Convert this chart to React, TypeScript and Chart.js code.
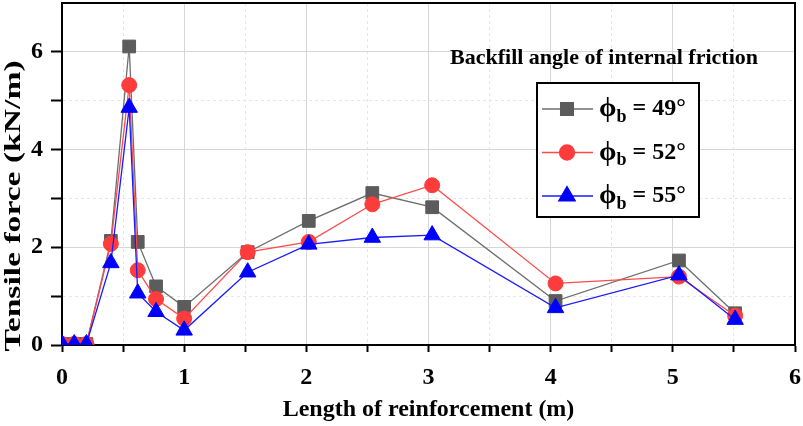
import React, { useEffect, useRef } from 'react';
import { Chart, registerables } from 'chart.js';
import { drawPoint } from 'chart.js/helpers';

Chart.register(...registerables);

// length of reinforcement (m)
const lengths = [0, 0.1, 0.2, 0.4, 0.55, 0.62, 0.77, 1.0, 1.52, 2.02, 2.54, 3.03, 4.04, 5.05, 5.51];
// tensile force (kN/m) for each backfill friction angle
const force49 = [0.02, 0.02, 0.02, 2.13, 6.11, 2.11, 1.2, 0.78, 1.9, 2.54, 3.11, 2.82, 0.9, 1.73, 0.65];
const force52 = [0.02, 0.02, 0.02, 2.07, 5.32, 1.53, 0.94, 0.54, 1.9, 2.11, 2.88, 3.27, 1.26, 1.4, 0.6];
const force55 = [0.02, 0.02, 0.02, 1.68, 4.86, 1.06, 0.68, 0.3, 1.49, 2.06, 2.2, 2.25, 0.76, 1.43, 0.52];

const angles = [49, 52, 55];
const legendTitle = 'Backfill angle of internal friction';
const yTitle = 'Tensile force (kN/m)';

const FONT = '"Liberation Serif", "Times New Roman", serif';

const toPoints = (ys: number[]) => lengths.map((x, i) => ({ x, y: ys[i] }));

const frameAndLegend = {
  id: 'frameAndLegend',
  afterDraw(chart: any) {
    const { ctx, chartArea } = chart;
    ctx.save();
    // top and right frame
    ctx.strokeStyle = '#000';
    ctx.lineWidth = 2;
    ctx.beginPath();
    ctx.moveTo(chartArea.left, chartArea.top);
    ctx.lineTo(chartArea.right, chartArea.top);
    ctx.lineTo(chartArea.right, chartArea.bottom);
    ctx.stroke();

    // y axis title (stretched along its length like the original)
    ctx.save();
    ctx.translate(14, 206);
    ctx.rotate(-Math.PI / 2);
    ctx.scale(1.4, 1);
    ctx.fillStyle = '#000';
    ctx.font = `bold 24px ${FONT}`;
    ctx.textAlign = 'center';
    ctx.textBaseline = 'middle';
    ctx.fillText(yTitle, 0, 0);
    ctx.restore();

    // legend title
    ctx.fillStyle = '#000';
    ctx.font = `bold 22px ${FONT}`;
    ctx.textAlign = 'center';
    ctx.textBaseline = 'middle';
    ctx.fillText(legendTitle, 604, 58);

    // legend box
    ctx.fillStyle = '#fff';
    ctx.fillRect(537, 83, 162, 134);
    ctx.strokeStyle = '#000';
    ctx.lineWidth = 2;
    ctx.strokeRect(537, 83, 162, 134);

    [0, 1, 2].forEach((i) => {
      const ds = chart.data.datasets[i];
      const y = 109 + i * 43.5;
      ctx.strokeStyle = ds.borderColor;
      ctx.lineWidth = ds.borderWidth;
      ctx.beginPath();
      ctx.moveTo(542, y);
      ctx.lineTo(593, y);
      ctx.stroke();
      ctx.fillStyle = ds.pointBackgroundColor;
      ctx.strokeStyle = ds.pointBackgroundColor;
      drawPoint(ctx, { pointStyle: ds.pointStyle, radius: ds.pointRadius, rotation: 0, borderWidth: 1 }, 567, y);

      ctx.fillStyle = '#000';
      ctx.textAlign = 'left';
      ctx.textBaseline = 'middle';
      let x = 599;
      ctx.font = `bold 28px ${FONT}`;
      ctx.fillText('\u03d5', x, y);
      x += ctx.measureText('\u03d5').width;
      ctx.font = `bold 18px ${FONT}`;
      ctx.fillText('b', x, y + 8);
      x += ctx.measureText('b').width;
      ctx.font = `bold 24px ${FONT}`;
      ctx.fillText(` = ${angles[i]}\u00b0`, x, y);
    });
    ctx.restore();
  },
};

const App: React.FC = () => {
  const chartRef = useRef<HTMLCanvasElement>(null);
  const chartInstance = useRef<Chart | null>(null);

  useEffect(() => {
    document.body.style.margin = '0';
    if (chartInstance.current) {
      chartInstance.current.destroy();
    }
    if (chartRef.current) {
      const ctx = chartRef.current.getContext('2d');
      if (ctx) {
        chartInstance.current = new Chart(ctx, {
          type: 'line',
          data: {
            datasets: [
              {
                label: `\u03d5b = ${angles[0]}\u00b0`,
                data: toPoints(force49),
                borderColor: '#6e6e6e',
                borderWidth: 1.3,
                pointStyle: 'rect',
                pointRadius: 9,
                pointBackgroundColor: '#5c5c5c',
                pointBorderColor: '#5c5c5c',
                pointBorderWidth: 1,
                order: 2,
              },
              {
                label: `\u03d5b = ${angles[1]}\u00b0`,
                data: toPoints(force52),
                borderColor: '#ff4a4a',
                borderWidth: 1.3,
                pointStyle: 'circle',
                pointRadius: 7.5,
                pointBackgroundColor: '#ff3c3c',
                pointBorderColor: '#ff3c3c',
                pointBorderWidth: 1,
                order: 1,
              },
              {
                label: `\u03d5b = ${angles[2]}\u00b0`,
                data: toPoints(force55),
                borderColor: '#1a1aff',
                borderWidth: 1.3,
                pointStyle: 'triangle',
                pointRadius: 9.5,
                pointBackgroundColor: '#0000ff',
                pointBorderColor: '#0000ff',
                pointBorderWidth: 1,
                order: 0,
              },
            ],
          },
          options: {
            responsive: false,
            animation: false,
            layout: { autoPadding: false, padding: { left: 0, top: 3, right: 8, bottom: 0 } },
            plugins: {
              legend: { display: false },
              tooltip: { enabled: false },
            },
            elements: { line: { tension: 0 } },
            scales: {
              x: {
                type: 'linear',
                min: 0,
                max: 6,
                ticks: {
                  stepSize: 0.5,
                  autoSkip: false,
                  maxRotation: 0,
                  callback: (v: any) => (Number.isInteger(v) ? String(v) : ''),
                  font: { family: FONT, size: 24, weight: 'bold' },
                  color: '#000',
                  padding: 11,
                },
                grid: {
                  color: (c: any) => (c.tick && !Number.isInteger(c.tick.value) ? '#e6e6e6' : '#d6d6d6'),
                  lineWidth: 1,
                  tickLength: 7,
                  tickColor: '#000',
                  tickWidth: 2,
                },
                border: {
                  color: '#000',
                  width: 2,
                  dash: (c: any) => (c.tick && !Number.isInteger(c.tick.value) ? [3, 3] : []),
                },
                title: {
                  display: true,
                  text: 'Length of reinforcement (m)',
                  font: { family: FONT, size: 24, weight: 'bold' },
                  color: '#000',
                  padding: { top: 0, bottom: 2 },
                },
                afterFit: (scale: any) => {
                  scale.height = 81;
                  scale.paddingLeft = 0;
                  scale.paddingRight = 0;
                },
              },
              y: {
                type: 'linear',
                min: 0,
                max: 7,
                ticks: {
                  stepSize: 1,
                  autoSkip: false,
                  callback: (v: any) => (v % 2 === 0 ? String(v) : ''),
                  font: { family: FONT, size: 24, weight: 'bold' },
                  color: '#000',
                  padding: 8,
                },
                grid: {
                  color: (c: any) => (c.tick && c.tick.value % 2 === 1 ? '#e6e6e6' : '#d6d6d6'),
                  lineWidth: 1,
                  tickLength: 11,
                  tickColor: (c: any) => (c.tick && c.tick.value === 7 ? 'rgba(0,0,0,0)' : '#000'),
                  tickWidth: 2,
                },
                border: {
                  color: '#000',
                  width: 2,
                  dash: (c: any) => (c.tick && c.tick.value % 2 === 1 ? [3, 3] : []),
                },
                title: { display: false },
                afterFit: (scale: any) => {
                  scale.width = 62;
                  scale.paddingTop = 0;
                  scale.paddingBottom = 0;
                },
              },
            },
          },
          plugins: [frameAndLegend],
        });
      }
    }
    return () => {
      if (chartInstance.current) {
        chartInstance.current.destroy();
        chartInstance.current = null;
      }
    };
  }, []);

  return (
    <div style={{ width: '803px', height: '426px', background: '#fff' }}>
      <canvas ref={chartRef} width={803} height={426}></canvas>
    </div>
  );
};

export default App;
